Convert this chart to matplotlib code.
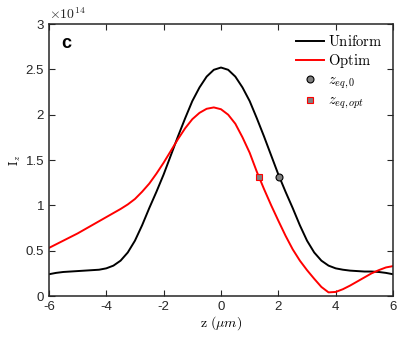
import matplotlib
matplotlib.use("Agg")
import matplotlib.pyplot as plt

# ---- data (intensity in units of 1e14) ----
z = [-6.0, -5.75, -5.5, -5.25, -5.0, -4.75, -4.5, -4.25, -4.0, -3.75, -3.5, -3.25,
     -3.0, -2.75, -2.5, -2.25, -2.0, -1.75, -1.5, -1.25, -1.0, -0.75, -0.5, -0.25,
     0.0, 0.25, 0.5, 0.75, 1.0, 1.25, 1.5, 1.75, 2.0, 2.25, 2.5, 2.75,
     3.0, 3.25, 3.5, 3.75, 4.0, 4.25, 4.5, 4.75, 5.0, 5.25, 5.5, 5.75, 6.0]

uniform = [0.24, 0.255, 0.265, 0.27, 0.275, 0.28, 0.285, 0.29, 0.305, 0.335, 0.39, 0.48,
           0.61, 0.78, 0.97, 1.15, 1.34, 1.55, 1.76, 1.96, 2.15, 2.30, 2.42, 2.495,
           2.52, 2.495, 2.42, 2.30, 2.15, 1.96, 1.76, 1.55, 1.34, 1.15, 0.97, 0.78,
           0.61, 0.48, 0.39, 0.335, 0.305, 0.29, 0.28, 0.275, 0.27, 0.27, 0.265, 0.255, 0.24]

optim = [0.53, 0.57, 0.61, 0.65, 0.69, 0.735, 0.78, 0.825, 0.87, 0.915, 0.96, 1.01,
         1.07, 1.15, 1.24, 1.35, 1.47, 1.60, 1.73, 1.85, 1.95, 2.02, 2.065, 2.08,
         2.06, 2.00, 1.90, 1.75, 1.58, 1.37, 1.18, 1.00, 0.83, 0.665, 0.515, 0.39,
         0.285, 0.19, 0.10, 0.04, 0.045, 0.075, 0.115, 0.16, 0.205, 0.25, 0.285, 0.315, 0.33]

zeq0 = (2.03, 1.31)
zeq_opt = (1.31, 1.31)

# ---- plot ----
plt.rcParams["mathtext.fontset"] = "cm"
plt.rcParams["axes.unicode_minus"] = False
plt.rcParams["font.family"] = ["Liberation Sans", "DejaVu Sans"]

fig = plt.figure(figsize=(4.04, 3.43), dpi=100)
ax = fig.add_axes([0.121, 0.137, 0.852, 0.793])

ax.plot(z, uniform, color="black", lw=1.4, solid_joinstyle="round", label=r"$\mathrm{Uniform}$")
ax.plot(z, optim, color="red", lw=1.4, solid_joinstyle="round", label=r"$\mathrm{Optim}$")
ax.plot(*zeq0, ls="none", marker="o", ms=5, mfc="#808080", mec="black", mew=0.8,
        label=r"$z_{eq,0}$")
ax.plot(*zeq_opt, ls="none", marker="s", ms=4.5, mfc="#808080", mec="red", mew=0.8,
        label=r"$z_{eq,opt}$")

ax.set_xlim(-6, 6)
ax.set_ylim(0, 3)
ax.set_xticks([-6, -4, -2, 0, 2, 4, 6])
ax.set_yticks([0, 0.5, 1, 1.5, 2, 2.5, 3])
ax.set_yticklabels(["0", "0.5", "1", "1.5", "2", "2.5", "3"])
ax.tick_params(direction="in", top=True, right=True, labelsize=9.5,
               colors="#262626", length=4, width=0.8)
for s in ax.spines.values():
    s.set_color("#262626")
    s.set_linewidth(1.1)

ax.set_xlabel(r"$\mathrm{z}\ (\mu m)$", fontsize=10, labelpad=1)
ax.set_ylabel(r"$\mathrm{I}_z$", fontsize=9, labelpad=2)
ax.text(0.0, 1.006, r"$\times10^{14}$", transform=ax.transAxes, fontsize=10,
        family="DejaVu Sans", color="#262626", va="bottom", ha="left")
ax.text(0.05, 0.93, "c", transform=ax.transAxes, fontsize=13, fontweight="bold",
        va="center", ha="center")

ax.legend(loc="upper right", frameon=False, fontsize=10.5, handlelength=1.9,
          handletextpad=0.3, labelspacing=0.2, borderaxespad=0.3)

fig.savefig("out.png", dpi=100)
